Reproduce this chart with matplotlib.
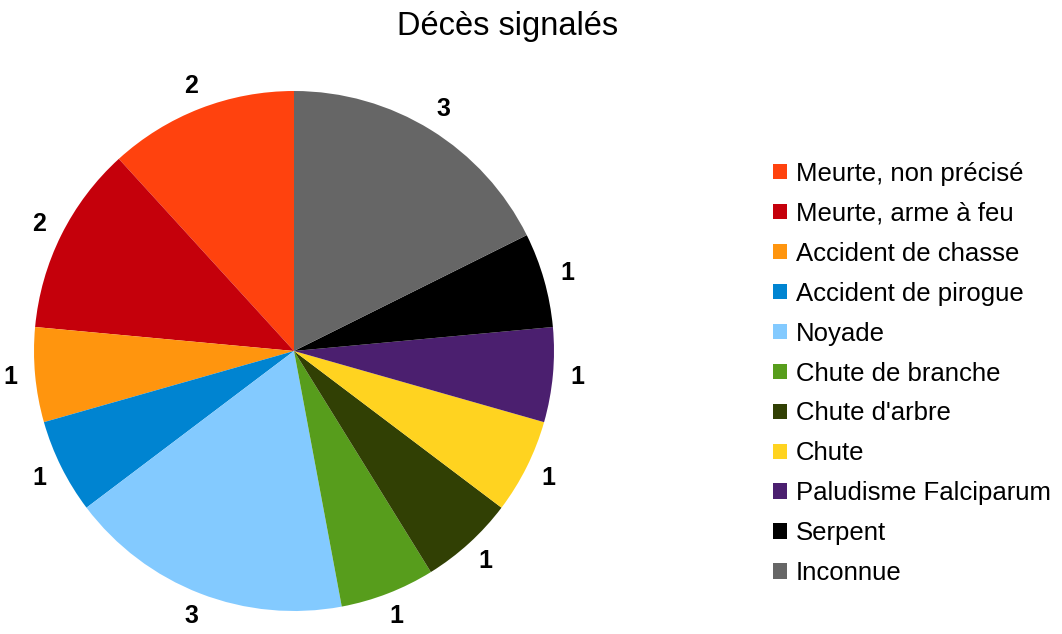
import matplotlib
matplotlib.use('Agg')
import matplotlib.pyplot as plt
from matplotlib.patches import Patch

plt.rcParams['font.family'] = ['Liberation Sans', 'DejaVu Sans']

causes = ['Meurte, non précisé', 'Meurte, arme à feu', 'Accident de chasse',
          'Accident de pirogue', 'Noyade', 'Chute de branche', "Chute d'arbre",
          'Chute', 'Paludisme Falciparum', 'Serpent', 'Inconnue']
deces = [2, 2, 1, 1, 3, 1, 1, 1, 1, 1, 3]
couleurs = ['#ff420e', '#c5000b', '#ff950e', '#0084d1', '#83caff', '#579d1c',
            '#314004', '#ffd320', '#4b1f6f', '#000000', '#666666']

fig = plt.figure(figsize=(10.62, 6.34), dpi=100)
ax = fig.add_axes([34/1062, 23/634, 520/1062, 520/634])

wedges, texts = ax.pie(deces, colors=couleurs, startangle=90, counterclock=True,
                       labels=[str(d) for d in deces], labeldistance=1.095,
                       wedgeprops=dict(linewidth=0),
                       textprops=dict(fontsize=18, fontweight='bold'))
for t in texts:
    t.set_ha('center')
    t.set_va('center')
ax.set_xlim(-1, 1)
ax.set_ylim(-1, 1)
ax.set_aspect('equal')

fig.text(508/1062, 1 - 27/634, 'Décès signalés', ha='center', va='center', fontsize=23.5)

handles = [Patch(facecolor=c, edgecolor='none') for c in couleurs]
fig.legend(handles, causes, loc='center left', bbox_to_anchor=(773/1062, 1 - 373.5/634),
           frameon=False, fontsize=18.5, handlelength=0.55, handleheight=0.55,
           handletextpad=0.35, labelspacing=0.62, borderpad=0, borderaxespad=0)

fig.savefig('out.png', dpi=100)
